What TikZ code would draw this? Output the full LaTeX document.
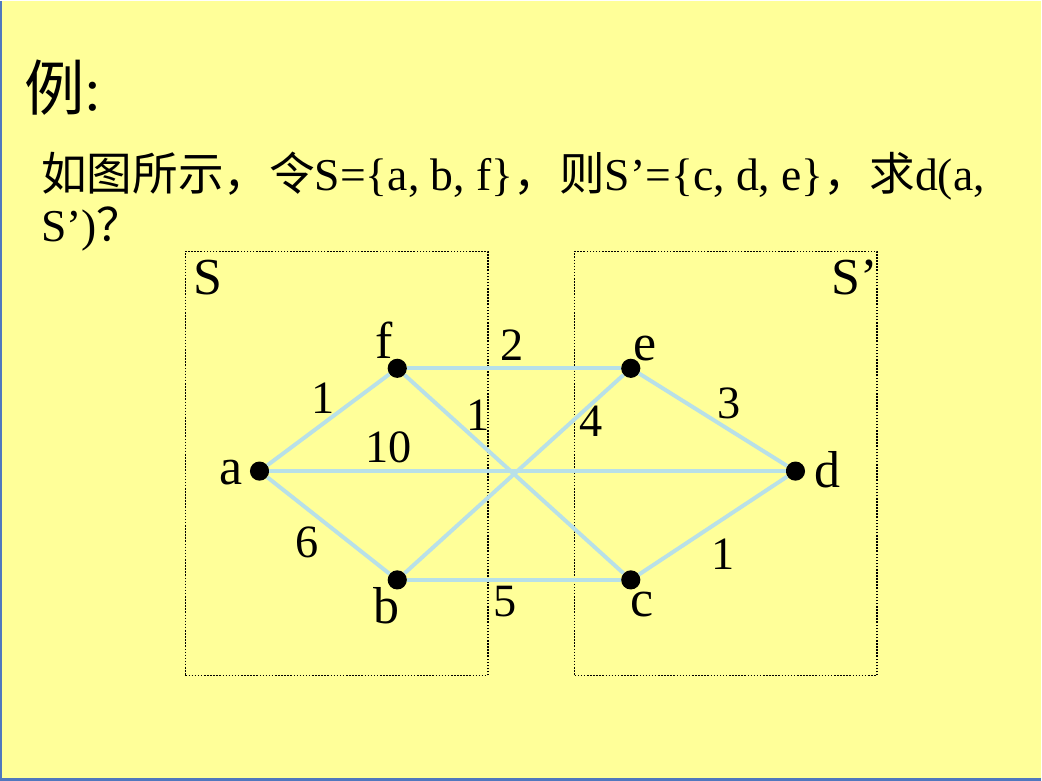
\documentclass[tikz,border=0pt]{standalone}
\usepackage{fontspec}
\setmainfont{Liberation Serif}
\newfontfamily\cjk{Noto Sans CJK SC}
\definecolor{slide}{RGB}{255,255,153}
\definecolor{edgeblue}{RGB}{184,224,232}
\definecolor{frameblue}{RGB}{80,120,190}

\begin{document}
\begin{tikzpicture}[x=0.025cm, y=-0.025cm,
    vertex/.style={circle, fill=black, inner sep=0pt, minimum size=0.48cm},
    link/.style={draw=edgeblue, line width=2.8pt},
    vname/.style={inner sep=0pt, font=\fontsize{37}{40}\selectfont},
    weight/.style={inner sep=0pt, font=\fontsize{33}{36}\selectfont},
    setbox/.style={draw, line width=1.1pt, dash pattern=on 1.1pt off 1.1pt}]
        \fill[slide] (0,0) rectangle (1042,780);
        \draw[frameblue, line width=1.5pt] (0,0) -- (0,780) -- (1042,780);

        \node[anchor=base west, inner sep=0pt, font=\fontsize{43}{46}\selectfont] (title) at (23,110) {{\cjk 例}:};
        \node[anchor=base west, inner sep=0pt, font=\fontsize{32.5}{36}\selectfont] (line1) at (40,190) {{\cjk 如图所示，令}S=\{a, b, f\}{\cjk ，则}S’=\{c, d, e\}{\cjk ，求}d(a,};
        \node[anchor=base west, inner sep=0pt, font=\fontsize{32.5}{36}\selectfont] (line2) at (40,241) {S’){\cjk ？}};

        \node[setbox, minimum width=7.575cm, minimum height=10.625cm, anchor=north west] (setS) at (184,250) {};
        \node[setbox, minimum width=7.575cm, minimum height=10.625cm, anchor=north west] (setT) at (574,250) {};
        \node[vname] (labS) at (207,277) {S};
        \node[vname] (labT) at (855,277) {S’};

        \node[vertex] (a) at (259,471) {};
        \node[vertex] (f) at (397,368) {};
        \node[vertex] (b) at (397,580) {};
        \node[vertex] (e) at (631,368) {};
        \node[vertex] (c) at (631,580) {};
        \node[vertex] (d) at (796,471) {};

        \draw[link] (a) -- (f);
        \draw[link] (a) -- (d);
        \draw[link] (a) -- (b);
        \draw[link] (f) -- (e);
        \draw[link] (f) -- (c);
        \draw[link] (b) -- (e);
        \draw[link] (b) -- (c);
        \draw[link] (e) -- (d);
        \draw[link] (c) -- (d);

        \node[vname] (na) at (230,472) {a};
        \node[vname] (nf) at (384,340) {f};
        \node[vname] (nb) at (386,606) {b};
        \node[vname] (ne) at (645,348) {e};
        \node[vname] (nc) at (642,605) {c};
        \node[vname] (nd) at (828,470) {d};

        \node[weight] (waf) at (323,398) {1};
        \node[weight] (wad) at (388,447) {10};
        \node[weight] (wab) at (307,542) {6};
        \node[weight] (wfe) at (512,345) {2};
        \node[weight] (wfc) at (478,415) {1};
        \node[weight] (wbe) at (591,421) {4};
        \node[weight] (wbc) at (505,602) {5};
        \node[weight] (wed) at (729,403) {3};
        \node[weight] (wcd) at (723,554) {1};
    \end{tikzpicture}
\end{document}
